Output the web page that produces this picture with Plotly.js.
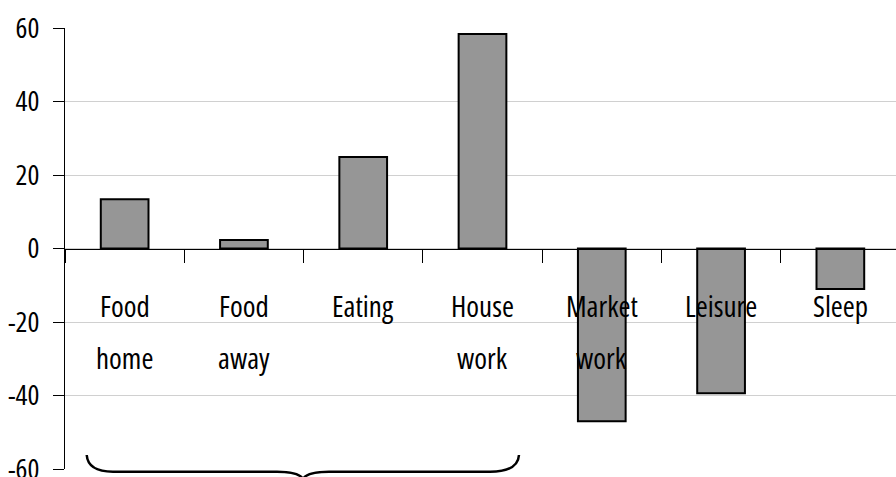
<!DOCTYPE html>
<html>
<head>
<meta charset="utf-8">
<script src="https://cdn.plot.ly/plotly-3.0.1.min.js"></script>
<style>
html, body { margin: 0; padding: 0; overflow: hidden; background: #fff; }
#chart { width: 900px; height: 477px; }
text, tspan { font-stretch: 75% !important; }
</style>
</head>
<body>
<div id="chart"></div>
<script>
// Data
const categories = ['Food home', 'Food away', 'Eating', 'House work', 'Market work', 'Leisure', 'Sleep'];
const labelLine1 = ['Food', 'Food', 'Eating', 'House', 'Market', 'Leisure', 'Sleep'];
const labelLine2 = ['home', 'away', '', 'work', 'work', '', ''];
const values = [13.4, 2.3, 24.9, 58.4, -47.0, -39.4, -11.0];
const yTickVals = [-60, -40, -20, 0, 20, 40, 60];

const FONT = '"Open Sans", "Liberation Sans Narrow", "DejaVu Sans Condensed", sans-serif';

const W = 900, H = 477;
const margin = { l: 65, r: 0, t: 28, b: 8 };
const plotW = W - margin.l - margin.r;
const plotH = H - margin.t - margin.b;
// pixel -> paper helper for the decorative brace
const px = (x) => ((x - margin.l) / plotW).toFixed(4);
const py = (y) => ((H - margin.b - y) / plotH).toFixed(4);

const bracePath =
  'M ' + px(86.7) + ',' + py(455) +
  ' Q ' + px(88) + ',' + py(471.7) + ' ' + px(113) + ',' + py(471.7) +
  ' L ' + px(277) + ',' + py(471.7) +
  ' Q ' + px(299) + ',' + py(471.7) + ' ' + px(303) + ',' + py(479) +
  ' Q ' + px(307) + ',' + py(471.7) + ' ' + px(329) + ',' + py(471.7) +
  ' L ' + px(490) + ',' + py(471.7) +
  ' Q ' + px(518) + ',' + py(471.7) + ' ' + px(519) + ',' + py(455);

const labelFont = { family: FONT, size: 29, color: '#000' };
const annotations = [];
categories.forEach((c, i) => {
  annotations.push({
    x: c, y: -15.4, xref: 'x', yref: 'y', text: labelLine1[i], showarrow: false,
    xanchor: 'center', yanchor: 'middle', font: labelFont
  });
  if (labelLine2[i]) {
    annotations.push({
      x: c, y: -29.6, xref: 'x', yref: 'y', text: labelLine2[i], showarrow: false,
      xanchor: 'center', yanchor: 'middle', font: labelFont
    });
  }
});

const trace = {
  type: 'bar',
  x: categories,
  y: values,
  marker: { color: '#969696', line: { color: '#000', width: 2 } },
  hoverinfo: 'skip'
};

const layout = {
  width: W, height: H,
  margin: margin,
  paper_bgcolor: '#fff', plot_bgcolor: '#fff',
  showlegend: false,
  bargap: 0.6,
  font: { family: FONT, size: 28, color: '#000' },
  xaxis: {
    type: 'category',
    anchor: 'free', position: 0.5,
    showline: true, linecolor: '#000', linewidth: 1,
    ticks: 'outside', tickson: 'boundaries', ticklen: 13, tickcolor: '#000', tickwidth: 1,
    showticklabels: false, showgrid: false, zeroline: false,
    range: [-0.5, 6.5]
  },
  yaxis: {
    range: [-60, 60],
    tickvals: yTickVals,
    ticktext: yTickVals.map(String),
    showline: true, linecolor: '#000', linewidth: 1,
    ticks: 'outside', ticklen: 11, tickcolor: '#000', tickwidth: 1,
    ticklabelstandoff: 8,
    ticklabeloverflow: 'allow',
    tickfont: { family: FONT, size: 28, color: '#000' },
    showgrid: true, gridcolor: '#d0d0d0', gridwidth: 1,
    zeroline: false
  },
  annotations: annotations,
  shapes: [{
    type: 'path', xref: 'paper', yref: 'paper', path: bracePath,
    line: { color: '#000', width: 2.5 }, layer: 'above'
  }]
};

Plotly.newPlot('chart', [trace], layout, { displayModeBar: false, staticPlot: true });
</script>
</body>
</html>
